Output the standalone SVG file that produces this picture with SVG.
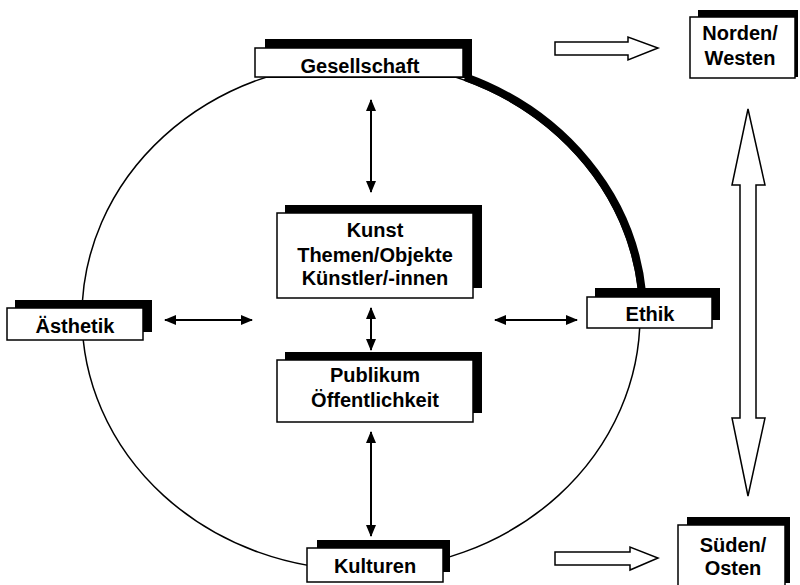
<svg xmlns="http://www.w3.org/2000/svg" width="800" height="585" viewBox="0 0 800 585">
<defs>
<style>
.sh{fill:#000}
.bx{fill:#fff;stroke:#000;stroke-width:1.5}
.t{font-family:"Liberation Sans",Arial,sans-serif;font-weight:bold;font-size:20px;fill:#000;text-anchor:middle}
.ln{stroke:#000;stroke-width:2;fill:none}
.hol{fill:#fff;stroke:#000;stroke-width:1.5;stroke-linejoin:miter}
</style>
<marker id="ah" viewBox="0 0 12 10" refX="11" refY="5" markerWidth="12" markerHeight="10" markerUnits="userSpaceOnUse" orient="auto-start-reverse">
<path d="M0,0 L12,5 L0,10 Z" fill="#000"/>
</marker>
</defs>
<rect width="800" height="585" fill="#fff"/>
<g id="ring">
<ellipse cx="361" cy="316" rx="279" ry="254" fill="none" stroke="#000" stroke-width="1.5"/>
<path d="M465,77 A282,257 0 0,1 642,292" fill="none" stroke="#000" stroke-width="8"/>
</g>
<g id="connectors">
<line class="ln" x1="371" y1="100" x2="371" y2="192" marker-start="url(#ah)" marker-end="url(#ah)"/>
<line class="ln" x1="371" y1="308" x2="371" y2="350" marker-start="url(#ah)" marker-end="url(#ah)"/>
<line class="ln" x1="371" y1="432" x2="371" y2="536" marker-start="url(#ah)" marker-end="url(#ah)"/>
<line class="ln" x1="165" y1="320" x2="252" y2="320" marker-start="url(#ah)" marker-end="url(#ah)"/>
<line class="ln" x1="495" y1="320" x2="577" y2="320" marker-start="url(#ah)" marker-end="url(#ah)"/>
<polygon class="hol" points="555,42 628,42 628,37 658,48 628,60 628,55 555,55"/>
<polygon class="hol" points="555,552 630,552 630,547 658,558 630,570 630,565 555,565"/>
<polygon class="hol" points="748,109 765,185 756,185 756,418 765,418 748,496 732,418 740,418 740,185 732,185"/>
</g>
<g id="gesellschaft">
<rect class="sh" x="265" y="39" width="207" height="39"/>
<rect class="bx" x="255" y="48" width="208" height="29"/>
<text class="t" x="360" y="73">Gesellschaft</text>
</g>
<g id="kunst">
<rect class="sh" x="285" y="205" width="197" height="83"/>
<rect class="bx" x="277" y="213" width="196" height="85"/>
<text class="t" x="375" y="237">Kunst</text>
<text class="t" x="375" y="262">Themen/Objekte</text>
<text class="t" x="375" y="285">Künstler/-innen</text>
</g>
<g id="aesthetik">
<rect class="sh" x="15" y="300" width="137" height="32"/>
<rect class="bx" x="7" y="308" width="136" height="32"/>
<text class="t" x="75" y="333">Ästhetik</text>
</g>
<g id="ethik">
<rect class="sh" x="595" y="288" width="125" height="32"/>
<rect class="bx" x="587" y="297" width="125" height="31"/>
<text class="t" x="650" y="321">Ethik</text>
</g>
<g id="publikum">
<rect class="sh" x="285" y="352" width="197" height="61"/>
<rect class="bx" x="277" y="360" width="196" height="62"/>
<text class="t" x="375" y="382">Publikum</text>
<text class="t" x="375" y="407">Öffentlichkeit</text>
</g>
<g id="kulturen">
<rect class="sh" x="317" y="540" width="133" height="32"/>
<rect class="bx" x="307" y="548" width="136" height="34"/>
<text class="t" x="375" y="573">Kulturen</text>
</g>
<g id="norden">
<rect class="sh" x="698" y="10" width="100" height="67"/>
<rect class="bx" x="690" y="17" width="105" height="61"/>
<text class="t" x="740" y="40">Norden/</text>
<text class="t" x="740" y="65">Westen</text>
</g>
<g id="sueden">
<rect class="sh" x="687" y="517" width="103" height="66"/>
<rect class="bx" x="678" y="525" width="107" height="64"/>
<text class="t" x="733" y="552">Süden/</text>
<text class="t" x="733" y="575">Osten</text>
</g>
</svg>
